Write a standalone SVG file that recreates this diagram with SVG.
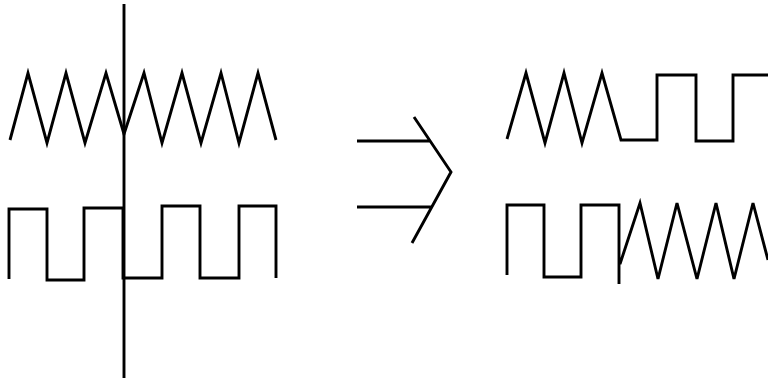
<svg xmlns="http://www.w3.org/2000/svg" width="768" height="381" viewBox="0 0 768 381">
<style>
.w{fill:none;stroke:#000;stroke-width:2.9;stroke-linejoin:miter;stroke-linecap:butt}
</style>
<rect width="768" height="381" fill="#fff"/>
<g id="left-saw">
<path class="w" d="M10,140 L28,73 L47,143 L66,73 L85,143 L106,73 L124,134 L144,73 L162,143 L182,73 L201,143 L221,73 L239,143 L258,73 L276,140"/>
</g>
<g id="left-square">
<path class="w" d="M9,279 V209 H47 V280 H84 V208 H123 V278 H162 V206 H200 V278 H239 V206 H276 V278"/>
</g>
<g id="cut-line">
<line class="w" x1="124" y1="4" x2="124" y2="378"/>
</g>
<g id="arrow">
<path class="w" d="M357,141 H431 M357,207 H431 M414,117 L451,172 L412,243"/>
</g>
<g id="right-top">
<path class="w" d="M507,139 L526,73 L545,143 L564,73 L582,143 L602,73 L621,140 H657 V75 H696 V141 H733 V75 H768"/>
</g>
<g id="right-bottom">
<path class="w" d="M507,275 V205 H544 V277 H581 V205 H619 V284 M620,264 L640,203 L658,279 L677,203 L697,279 L716,203 L734,279 L753,203 L768,260"/>
</g>
</svg>
